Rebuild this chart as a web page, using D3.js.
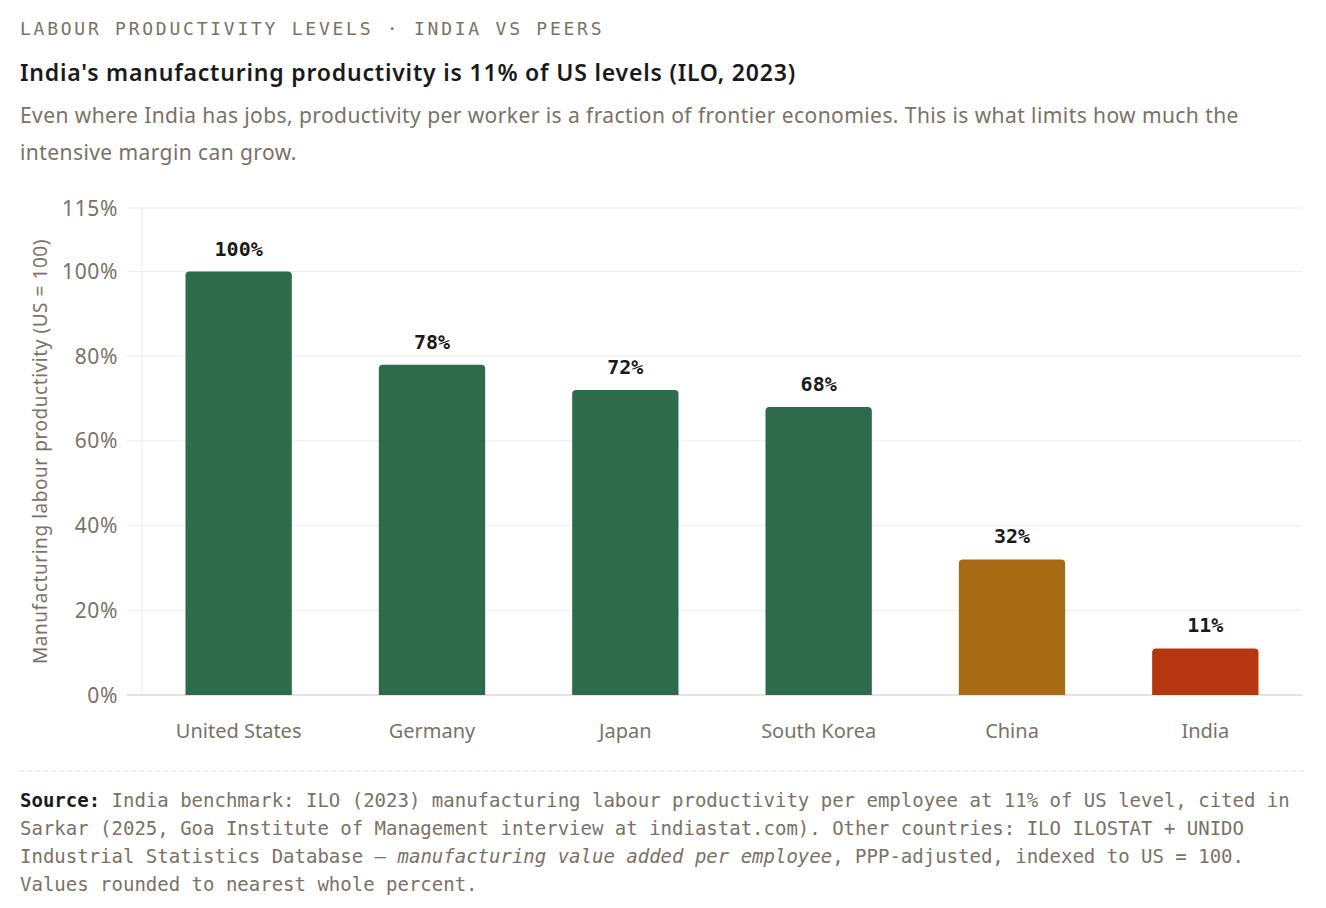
<!DOCTYPE html>
<html>
<head>
<meta charset="utf-8">
<script src="https://cdn.jsdelivr.net/npm/d3@7"></script>
<style>
  body { margin: 0; background: #fff; }
  svg text { font-family: "Noto Sans", sans-serif; }
  .mono { font-family: "DejaVu Sans Mono", "Liberation Mono", monospace !important; }
</style>
</head>
<body>
<svg id="chart" width="1326" height="908"></svg>
<script>
// data
const countries = ["United States", "Germany", "Japan", "South Korea", "China", "India"];
const productivity = [100, 78, 72, 68, 32, 11];
const groups = ["peer", "peer", "peer", "peer", "china", "india"];
const yTicks = [0, 20, 40, 60, 80, 100, 115];

const colors = { peer: "#2e6b4a", china: "#a86b14", india: "#b5360f" };
const grey = "#7a7265";

const svg = d3.select("#chart");

// header
svg.append("text").attr("class", "mono")
  .attr("x", 20).attr("y", 35)
  .attr("font-size", 18).attr("letter-spacing", 2.75)
  .attr("fill", grey)
  .text("LABOUR PRODUCTIVITY LEVELS · INDIA VS PEERS");

svg.append("text")
  .attr("x", 20).attr("y", 81)
  .attr("font-size", 23).attr("font-weight", 600)
  .attr("letter-spacing", 0.8)
  .attr("fill", "#1a1a1a")
  .text("India's manufacturing productivity is 11% of US levels (ILO, 2023)");

const sub = svg.append("text").attr("font-size", 21).attr("letter-spacing", 0.42).attr("fill", grey);
sub.append("tspan").attr("x", 20).attr("y", 123)
  .text("Even where India has jobs, productivity per worker is a fraction of frontier economies. This is what limits how much the");
sub.append("tspan").attr("x", 20).attr("y", 160)
  .text("intensive margin can grow.");

// plot area
const margin = { left: 142, right: 24, top: 208, bottom: 213 };
const width = 1326 - margin.left - margin.right,
      height = 908 - margin.top - margin.bottom;

const g = svg.append("g")
  .attr("transform", "translate(" + margin.left + "," + margin.top + ")");

const x = d3.scaleBand()
  .domain(countries)
  .range([0, width])
  .paddingInner(0.45)
  .paddingOuter(0.225);

const y = d3.scaleLinear()
  .domain([0, 115])
  .range([height, 0]);

// gridlines
g.selectAll("line.grid")
  .data(yTicks)
  .enter().append("line")
    .attr("class", "grid")
    .attr("x1", -15).attr("x2", width)
    .attr("y1", d => y(d)).attr("y2", d => y(d))
    .attr("stroke", d => d === 0 ? "#dcd9d4" : "#efefef")
    .attr("stroke-width", d => d === 0 ? 1.5 : 1.2);

g.append("line")
  .attr("x1", 0).attr("x2", 0)
  .attr("y1", 0).attr("y2", height)
  .attr("stroke", "#efefef").attr("stroke-width", 1.2);

// y tick labels
g.selectAll("text.ytick")
  .data(yTicks)
  .enter().append("text")
    .attr("class", "ytick")
    .attr("x", -24)
    .attr("y", d => y(d))
    .attr("dy", "0.36em")
    .attr("text-anchor", "end")
    .attr("font-size", 21)
    .attr("letter-spacing", 0.6)
    .attr("fill", grey)
    .text(d => d + "%");

// y axis title
svg.append("text")
  .attr("transform", "translate(47," + (margin.top + height / 2) + ") rotate(-90)")
  .attr("text-anchor", "middle")
  .attr("font-size", 19)
  .attr("letter-spacing", 0.55)
  .attr("fill", grey)
  .text("Manufacturing labour productivity (US = 100)");

// bars with rounded top corners
function topRounded(x0, y0, w, h, r) {
  r = Math.min(r, h, w / 2);
  return "M" + x0 + "," + (y0 + h) +
    "V" + (y0 + r) +
    "Q" + x0 + "," + y0 + " " + (x0 + r) + "," + y0 +
    "H" + (x0 + w - r) +
    "Q" + (x0 + w) + "," + y0 + " " + (x0 + w) + "," + (y0 + r) +
    "V" + (y0 + h) + "Z";
}

const bars = countries.map((c, i) => ({ country: c, value: productivity[i], group: groups[i] }));

g.selectAll("path.bar")
  .data(bars)
  .enter().append("path")
    .attr("class", "bar")
    .attr("d", d => topRounded(x(d.country), y(d.value), x.bandwidth(), height - y(d.value), 4))
    .attr("fill", d => colors[d.group]);

// value labels
g.selectAll("text.val")
  .data(bars)
  .enter().append("text")
    .attr("class", "val mono")
    .attr("x", d => x(d.country) + x.bandwidth() / 2)
    .attr("y", d => y(d.value) - 16)
    .attr("text-anchor", "middle")
    .attr("font-size", 20)
    .attr("font-weight", "bold")
    .attr("fill", "#1a1a1a")
    .text(d => d.value + "%");

// x labels
g.selectAll("text.xlab")
  .data(countries)
  .enter().append("text")
    .attr("class", "xlab")
    .attr("x", d => x(d) + x.bandwidth() / 2)
    .attr("y", height + 43)
    .attr("text-anchor", "middle")
    .attr("font-size", 20)
    .attr("fill", grey)
    .text(d => d);

// separator
svg.append("line")
  .attr("x1", 20).attr("x2", 1305)
  .attr("y1", 771).attr("y2", 771)
  .attr("stroke", "#dddad5")
  .attr("stroke-width", 1.2)
  .attr("stroke-dasharray", "4,4");

// footer
const foot = svg.append("text").attr("class", "mono")
  .attr("font-size", 19).attr("fill", grey);

const l1 = foot.append("tspan").attr("x", 20).attr("y", 807);
l1.append("tspan").attr("font-weight", "bold").attr("fill", "#1a1a1a").text("Source:");
l1.append("tspan").text(" India benchmark: ILO (2023) manufacturing labour productivity per employee at 11% of US level, cited in");
foot.append("tspan").attr("x", 20).attr("y", 835)
  .text("Sarkar (2025, Goa Institute of Management interview at indiastat.com). Other countries: ILO ILOSTAT + UNIDO");
const l3 = foot.append("tspan").attr("x", 20).attr("y", 863);
l3.append("tspan").text("Industrial Statistics Database — ");
l3.append("tspan").attr("font-style", "italic").text("manufacturing value added per employee");
l3.append("tspan").text(", PPP-adjusted, indexed to US = 100.");
foot.append("tspan").attr("x", 20).attr("y", 891)
  .text("Values rounded to nearest whole percent.");
</script>
</body>
</html>
